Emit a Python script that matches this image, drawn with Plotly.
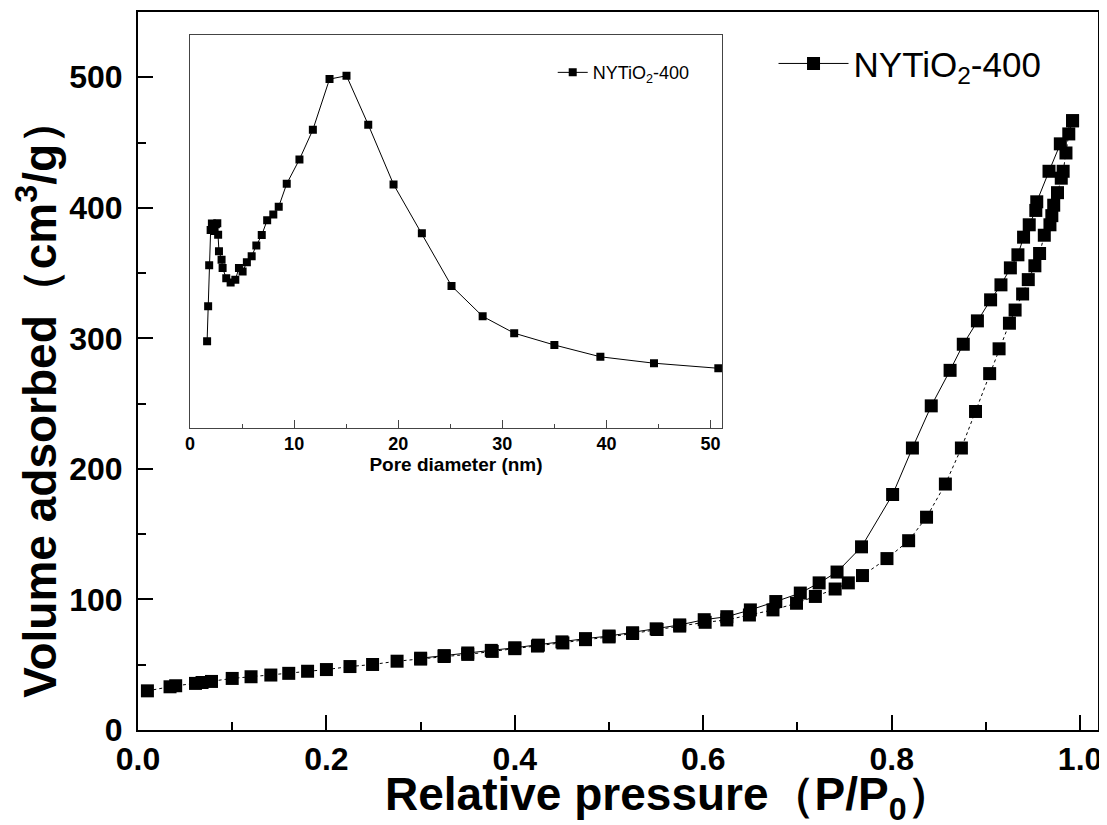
import plotly.graph_objects as go

# Adsorption branch (relative pressure, volume adsorbed cm3/g)
p_ads = [0.010, 0.034, 0.040, 0.061, 0.068, 0.078, 0.100, 0.120, 0.141, 0.160,
         0.180, 0.200, 0.225, 0.249, 0.275, 0.300, 0.325, 0.350, 0.376, 0.400,
         0.424, 0.451, 0.475, 0.500, 0.525, 0.551, 0.575, 0.602, 0.625, 0.649,
         0.674, 0.699, 0.719, 0.740, 0.754, 0.769, 0.795, 0.818, 0.837, 0.857,
         0.874, 0.889, 0.904, 0.914, 0.925, 0.931, 0.939, 0.945, 0.952, 0.957,
         0.962, 0.968, 0.970, 0.972, 0.976, 0.980, 0.982, 0.985, 0.988, 0.992]
v_ads = [30.0, 33.1, 33.9, 35.7, 36.4, 37.2, 39.5, 40.8, 42.1, 43.4,
         45.0, 46.3, 48.6, 50.2, 52.7, 54.3, 56.3, 57.9, 60.2, 62.3,
         64.3, 66.7, 69.2, 71.3, 73.9, 77.0, 79.6, 82.5, 84.3, 88.1,
         92.0, 97.1, 102.3, 108.0, 112.7, 118.3, 131.3, 145.0, 163.0, 188.4,
         216.0, 244.0, 273.0, 292.0, 311.6, 321.7, 334.0, 345.0, 355.6, 365.0,
         379.0, 387.0, 394.0, 402.0, 411.6, 422.7, 428.0, 442.0, 456.6, 466.7]

# Desorption branch
p_des = [0.992, 0.979, 0.967, 0.954, 0.953, 0.946, 0.940, 0.934, 0.926, 0.916,
         0.905, 0.891, 0.876, 0.862, 0.842, 0.822, 0.801, 0.768, 0.742, 0.723,
         0.703, 0.677, 0.650, 0.625, 0.601, 0.575, 0.550, 0.525, 0.500, 0.475,
         0.450, 0.425, 0.400, 0.375, 0.350, 0.325, 0.300]
v_des = [466.7, 449.0, 428.0, 404.6, 398.0, 387.0, 377.5, 364.0, 354.0, 341.0,
         329.5, 313.4, 295.5, 275.5, 248.3, 216.0, 180.4, 140.3, 121.0, 112.7,
         104.9, 98.4, 92.0, 86.8, 84.5, 80.5, 77.5, 74.5, 72.0, 70.0,
         67.5, 65.0, 63.0, 61.0, 59.0, 57.0, 55.0]

# Inset: pore size distribution (arbitrary units)
d_pore = [1.64, 1.74, 1.84, 1.98, 2.10, 2.22, 2.35, 2.48, 2.62, 2.70,
          2.78, 3.03, 3.13, 3.48, 3.90, 4.35, 4.70, 5.05, 5.46, 5.92,
          6.37, 6.89, 7.41, 8.00, 8.52, 9.29, 10.51, 11.80, 13.40, 15.03,
          17.12, 19.55, 22.27, 25.12, 28.11, 31.14, 35.00, 39.42, 44.57, 50.75]
dv_pore = [25.6, 36.0, 48.1, 58.6, 60.5, 59.8, 58.3, 60.3, 60.6, 57.2,
           52.3, 49.8, 47.3, 44.3, 43.0, 43.8, 47.3, 46.3, 49.0, 50.8,
           54.0, 57.1, 61.5, 63.2, 65.5, 72.3, 79.5, 88.3, 103.3, 104.3,
           89.8, 72.1, 57.6, 42.0, 33.0, 28.0, 24.5, 21.0, 19.1, 17.6]

main_ticks = [0, 100, 200, 300, 400, 500]
x_ticks = [0.0, 0.2, 0.4, 0.6, 0.8, 1.0]
x_tick_text = ["0.0", "0.2", "0.4", "0.6", "0.8", "1.0"]
inset_ticks = [0, 10, 20, 30, 40, 50]

series_name = "NYTiO<sub>2</sub>-400"
x_title = "Relative pressure（P/P<sub>0</sub>）"
y_title = "Volume adsorbed（cm<sup>3</sup>/g）"

fig = go.Figure()
fig.add_trace(go.Scatter(
    x=p_ads, y=v_ads, mode="lines+markers", showlegend=False,
    line=dict(color="black", width=1, dash="dot"),
    marker=dict(symbol="square", size=13, color="black", line=dict(width=0)),
))
fig.add_trace(go.Scatter(
    x=p_des, y=v_des, mode="lines+markers", name=series_name, legend="legend",
    line=dict(color="black", width=1),
    marker=dict(symbol="square", size=13, color="black", line=dict(width=0)),
))
fig.add_trace(go.Scatter(
    x=d_pore, y=dv_pore, xaxis="x2", yaxis="y2", mode="lines+markers",
    name=series_name, legend="legend2",
    line=dict(color="black", width=1),
    marker=dict(symbol="square", size=8, color="black", line=dict(width=0)),
))

bold = "Liberation Sans"

# The page body has an 8px margin, so the figure is sized 8px smaller
fig.update_layout(
    width=1099, height=817,
    margin=dict(l=130, r=9, t=4, b=95),
    paper_bgcolor="white", plot_bgcolor="white",
    font=dict(family=bold, color="black"),
    xaxis=dict(
        range=[0, 1.019], tickvals=x_ticks, ticktext=x_tick_text,
        automargin=False,
        ticks="inside", ticklen=15, tickwidth=2, tickcolor="black",
        minor=dict(dtick=0.1, ticks="inside", ticklen=8, tickwidth=2, tickcolor="black", tick0=0),
        showline=True, linecolor="black", linewidth=2, mirror=True,
        showgrid=False, zeroline=False,
        tickfont=dict(family=bold, size=32, color="black", weight="bold"),
        ticklabelstandoff=0,
    ),
    yaxis=dict(
        range=[0, 550], tickvals=main_ticks,
        automargin=False,
        ticks="inside", ticklen=15, tickwidth=2, tickcolor="black",
        minor=dict(dtick=50, ticks="inside", ticklen=8, tickwidth=2, tickcolor="black", tick0=0),
        showline=True, linecolor="black", linewidth=2, mirror=True,
        showgrid=False, zeroline=False,
        tickfont=dict(family=bold, size=32, color="black", weight="bold"),
        ticklabelstandoff=7,
    ),
    xaxis2=dict(
        domain=[0.0542, 0.6083], anchor="y2", range=[0, 51.1], tickvals=inset_ticks,
        automargin=False,
        ticks="inside", ticklen=8, tickwidth=1, tickcolor="#444",
        minor=dict(dtick=5, ticks="inside", ticklen=4, tickwidth=1, tickcolor="#444", tick0=0),
        showline=True, linecolor="#444", linewidth=1.2, mirror=True,
        showgrid=False, zeroline=False,
        tickfont=dict(family=bold, size=18, color="black", weight="bold"),
        ticklabelstandoff=0,
        title=dict(text="Pore diameter (nm)",
                   font=dict(family=bold, size=19, color="black", weight="bold"),
                   standoff=0),
    ),
    yaxis2=dict(
        domain=[0.4211, 0.9676], anchor="x2", range=[0, 116.3],
        automargin=False,
        showticklabels=False, ticks="",
        showline=True, linecolor="#444", linewidth=1.2, mirror=True,
        showgrid=False, zeroline=False,
    ),
    legend=dict(
        x=0.662, y=0.928, xanchor="left", yanchor="middle",
        bgcolor="rgba(0,0,0,0)", borderwidth=0, itemwidth=70,
        font=dict(family=bold, size=35, color="black"),
    ),
    legend2=dict(
        x=0.432, y=0.9155, xanchor="left", yanchor="middle",
        bgcolor="rgba(0,0,0,0)", borderwidth=0,
        font=dict(family=bold, size=18, color="black"),
    ),
    annotations=[
        dict(text=x_title, xref="paper", yref="paper", x=0.553, y=-0.094,
             xanchor="center", yanchor="middle", showarrow=False,
             font=dict(family=bold, size=46, color="black", weight="bold")),
        dict(text=y_title, xref="paper", yref="paper", x=-0.106, y=0.463,
             xanchor="center", yanchor="middle", showarrow=False, textangle=-90,
             font=dict(family=bold, size=46, color="black", weight="bold")),
    ],
)

fig.write_html("out.html")
